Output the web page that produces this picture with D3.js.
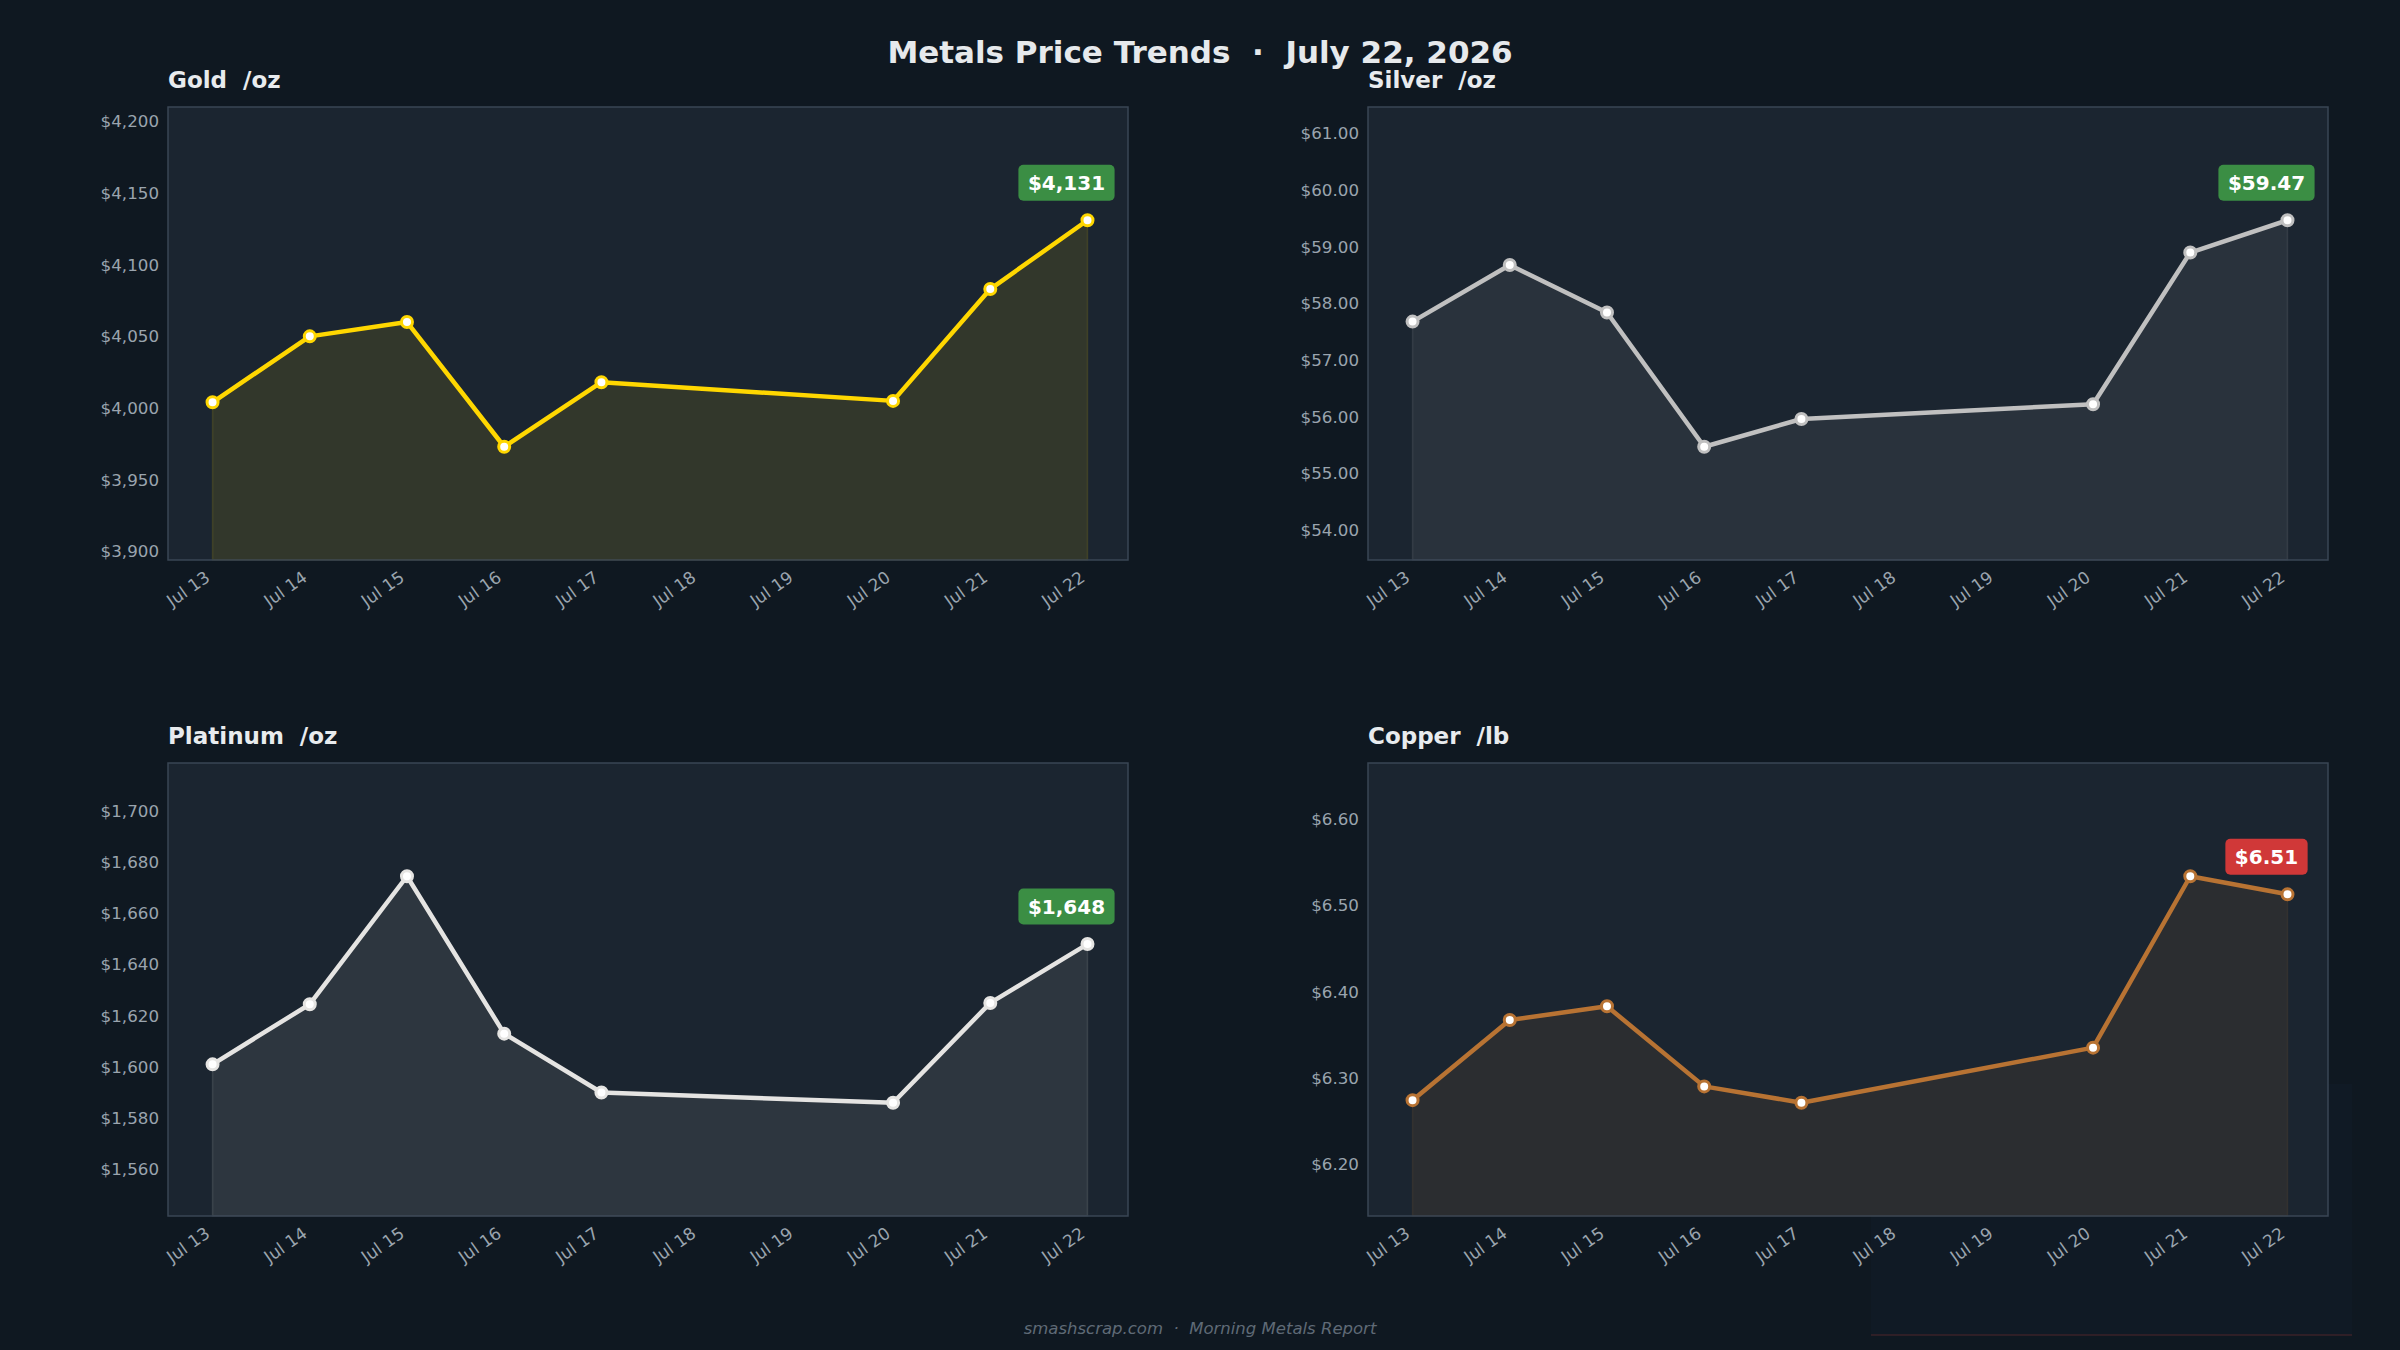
<!DOCTYPE html>
<html>
<head>
<meta charset="utf-8">
<script src="https://cdn.jsdelivr.net/npm/d3@7"></script>
<style>
  body { margin: 0; background: #0f1821; }
  svg { display: block; font-family: "DejaVu Sans", sans-serif; }
</style>
</head>
<body>
<svg id="chart"></svg>
<script>
// trading days (no weekend)
const dates = ['2026-07-13', '2026-07-14', '2026-07-15', '2026-07-16', '2026-07-17', '2026-07-20', '2026-07-21', '2026-07-22'];

const goldPrices = [4004, 4050, 4060, 3973, 4018, 4005, 4083, 4131];
const silverPrices = [57.68, 58.68, 57.84, 55.47, 55.96, 56.22, 58.90, 59.47];
const platinumPrices = [1601, 1624.5, 1674.5, 1613, 1590, 1586, 1625, 1648];
const copperPrices = [6.274, 6.367, 6.383, 6.290, 6.271, 6.335, 6.534, 6.513];

const goldTicks = [3900, 3950, 4000, 4050, 4100, 4150, 4200];
const silverTicks = [54, 55, 56, 57, 58, 59, 60, 61];
const platinumTicks = [1560, 1580, 1600, 1620, 1640, 1660, 1680, 1700];
const copperTicks = [6.2, 6.3, 6.4, 6.5, 6.6];

const title = 'Metals Price Trends  \u00b7  July 22, 2026';
const footer = 'smashscrap.com  \u00b7  Morning Metals Report';

const width = 2400, height = 1350;
const plotW = 960, plotH = 453;
const colX = [168, 1368];
const rowY = [107, 763];

const parseDay = d3.utcParse('%Y-%m-%d');
const days = dates.map(parseDay);
const dayFmt = d3.utcFormat('%b %-d');

const svg = d3.select('#chart')
  .attr('width', width)
  .attr('height', height);

svg.append('rect')
  .attr('width', width)
  .attr('height', height)
  .attr('fill', '#0f1821');

// Main title
svg.append('text')
  .attr('x', width / 2)
  .attr('y', 63)
  .attr('text-anchor', 'middle')
  .attr('font-size', 31)
  .attr('font-weight', 'bold')
  .attr('fill', '#e6e9ec')
  .style('white-space', 'pre')
  .text(title);

// faint panel behind copper's lower right corner
svg.append('rect')
  .attr('x', 1871).attr('y', 1084)
  .attr('width', 481).attr('height', 251)
  .attr('fill', '#101a25');
svg.append('line')
  .attr('x1', 1871).attr('x2', 2352)
  .attr('y1', 1335).attr('y2', 1335)
  .attr('stroke', '#3a2228').attr('stroke-width', 1.5);

const panels = [
  { name: 'Gold', unit: '/oz', color: '#ffd700', prices: goldPrices, ticks: goldTicks, fmt: d3.format('$,.0f'), alpha: 0.1, col: 0, row: 0 },
  { name: 'Silver', unit: '/oz', color: '#c0c0c0', prices: silverPrices, ticks: silverTicks, fmt: d3.format('$,.2f'), alpha: 0.09, col: 1, row: 0 },
  { name: 'Platinum', unit: '/oz', color: '#e5e4e2', prices: platinumPrices, ticks: platinumTicks, fmt: d3.format('$,.0f'), alpha: 0.09, col: 0, row: 1 },
  { name: 'Copper', unit: '/lb', color: '#b87333', prices: copperPrices, ticks: copperTicks, fmt: d3.format('$,.2f'), alpha: 0.1, col: 1, row: 1 }
];

panels.forEach(p => {
  const data = days.map((d, i) => ({ date: d, value: p.prices[i] }));
  const g = svg.append('g')
    .attr('transform', `translate(${colX[p.col]},${rowY[p.row]})`);

  const lo = d3.min(p.prices), hi = d3.max(p.prices);
  const pad = (hi - lo) * 0.5;

  const x = d3.scaleUtc()
    .domain([d3.utcHour.offset(days[0], -10.8), d3.utcHour.offset(days[days.length - 1], 10.8)])
    .range([0, plotW]);
  const y = d3.scaleLinear()
    .domain([lo - pad, hi + pad])
    .range([plotH, 0]);

  // plot background
  g.append('rect')
    .attr('width', plotW)
    .attr('height', plotH)
    .attr('fill', '#1b2530');

  const area = d3.area()
    .x(d => x(d.date))
    .y0(plotH)
    .y1(d => y(d.value));
  g.append('path')
    .datum(data)
    .attr('d', area)
    .attr('fill', p.color)
    .attr('fill-opacity', p.alpha)
    .attr('stroke', p.color)
    .attr('stroke-opacity', 0.12)
    .attr('stroke-width', 1.5);

  const line = d3.line()
    .x(d => x(d.date))
    .y(d => y(d.value));
  g.append('path')
    .datum(data)
    .attr('d', line)
    .attr('fill', 'none')
    .attr('stroke', p.color)
    .attr('stroke-width', 4.5)
    .attr('stroke-linejoin', 'round');

  g.selectAll('.dot')
    .data(data)
    .enter()
    .append('circle')
    .attr('class', 'dot')
    .attr('cx', d => x(d.date))
    .attr('cy', d => y(d.value))
    .attr('r', 5.5)
    .attr('fill', '#ffffff')
    .attr('stroke', p.color)
    .attr('stroke-width', 3);

  // frame
  g.append('rect')
    .attr('width', plotW)
    .attr('height', plotH)
    .attr('fill', 'none')
    .attr('stroke', '#3a4654')
    .attr('stroke-width', 1.5);

  // y axis
  const yAxis = g.append('g')
    .call(d3.axisLeft(y).tickValues(p.ticks).tickFormat(p.fmt).tickSize(0).tickPadding(9));
  yAxis.select('.domain').remove();
  yAxis.selectAll('text')
    .attr('font-family', '"DejaVu Sans", sans-serif')
    .attr('font-size', 16.7)
    .attr('fill', '#9aa4ae');

  // x axis, every calendar day
  const xAxis = g.append('g')
    .attr('transform', `translate(0,${plotH})`)
    .call(d3.axisBottom(x)
      .tickValues(d3.utcDay.range(days[0], d3.utcDay.offset(days[days.length - 1], 1)))
      .tickFormat(dayFmt)
      .tickSize(0));
  xAxis.select('.domain').remove();
  xAxis.selectAll('text')
    .attr('font-family', '"DejaVu Sans", sans-serif')
    .attr('font-size', 17)
    .attr('fill', '#9aa4ae')
    .attr('text-anchor', 'end')
    .attr('x', 0)
    .attr('y', 0)
    .attr('dy', 0)
    .attr('transform', 'translate(-2,20) rotate(-35)');

  // panel title
  g.append('text')
    .attr('x', 0)
    .attr('y', -19)
    .attr('font-size', 23)
    .attr('font-weight', 'bold')
    .attr('fill', '#e8ebee')
    .style('white-space', 'pre')
    .text(`${p.name}  ${p.unit}`);

  // last price badge, green if up on the day, red if down
  const last = data[data.length - 1];
  const prev = data[data.length - 2];
  const up = last.value >= prev.value;
  const bx = x(last.date) - 21;
  const by = y(last.value) - 37.5;
  const badge = g.append('g').attr('transform', `translate(${bx},${by})`);
  const rect = badge.append('rect');
  const label = badge.append('text')
    .attr('text-anchor', 'middle')
    .attr('dy', '0.36em')
    .attr('font-size', 20)
    .attr('font-weight', 'bold')
    .attr('fill', '#ffffff')
    .text(p.fmt(last.value));
  const tw = label.node().getComputedTextLength();
  rect.attr('x', -tw / 2 - 9.5)
    .attr('y', -18)
    .attr('width', tw + 19)
    .attr('height', 36)
    .attr('rx', 5)
    .attr('fill', up ? '#3b8e44' : '#d03838');
});

// footer
svg.append('text')
  .attr('x', width / 2)
  .attr('y', 1334)
  .attr('text-anchor', 'middle')
  .attr('font-size', 16.5)
  .attr('font-style', 'italic')
  .attr('fill', '#5f6a76')
  .style('white-space', 'pre')
  .text(footer);
</script>
</body>
</html>
